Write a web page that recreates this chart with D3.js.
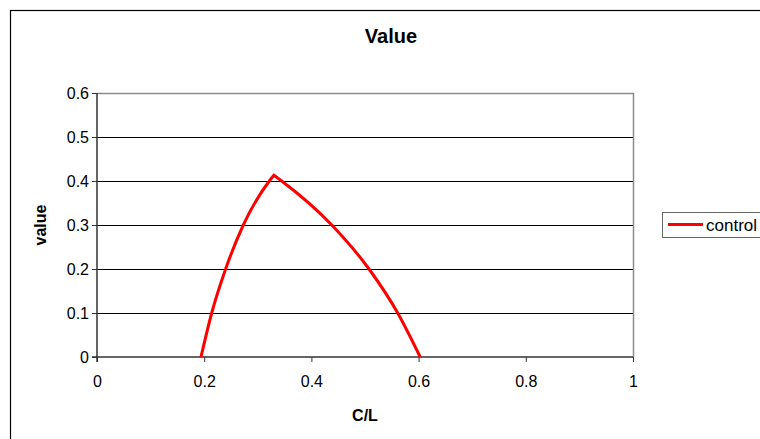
<!DOCTYPE html>
<html>
<head>
<meta charset="utf-8">
<script src="https://cdn.jsdelivr.net/npm/d3@7"></script>
<style>
  html, body { margin: 0; padding: 0; background: #fff; }
  svg { display: block; font-family: "Liberation Sans", Arial, sans-serif; }
</style>
</head>
<body>
<svg id="chart" width="760" height="439"></svg>
<script>
// ---- data ----
const cl    = [0.194, 0.214, 0.240, 0.273, 0.3215, 0.330, 0.3445, 0.438, 0.5075, 0.561, 0.603];
const value = [0.000, 0.100, 0.200, 0.300, 0.400,  0.413, 0.400,  0.300, 0.200,  0.100, 0.000];
const xTicks = [0, 0.2, 0.4, 0.6, 0.8, 1];
const yTicks = [0, 0.1, 0.2, 0.3, 0.4, 0.5, 0.6];
const seriesName = "control";
const chartTitle = "Value";
const xTitle = "C/L";
const yTitle = "value";

// ---- layout ----
const svg = d3.select("#chart");
const plot = { left: 97, right: 633, top: 93, bottom: 357 };

// outer chart border
svg.append("rect")
  .attr("x", 10.5).attr("y", 10.5)
  .attr("width", 800).attr("height", 500)
  .attr("fill", "none").attr("stroke", "#000").attr("stroke-width", 1.2);

const x = d3.scaleLinear().domain([0, 1]).range([plot.left, plot.right]);
const y = d3.scaleLinear().domain([0, 0.6]).range([plot.bottom, plot.top]);

// gridlines
svg.append("g")
  .selectAll("line")
  .data(yTicks.filter(t => t > 0 && t < 0.6))
  .join("line")
  .attr("x1", plot.left).attr("x2", plot.right)
  .attr("y1", d => Math.round(y(d)) + 0.5).attr("y2", d => Math.round(y(d)) + 0.5)
  .attr("stroke", "#000").attr("stroke-width", 1);

// plot frame (top and right gray)
svg.append("path")
  .attr("d", `M${plot.left},${plot.top + 0.5}H${plot.right + 0.5}V${plot.bottom}`)
  .attr("fill", "none").attr("stroke", "#8c8c8c").attr("stroke-width", 1.5);

// axes
const yAxis = d3.axisLeft(y).tickValues(yTicks).tickSize(5).tickPadding(3)
  .tickFormat(d => d3.format("")(d));
const xAxis = d3.axisBottom(x).tickValues(xTicks).tickSize(5).tickPadding(14)
  .tickFormat(d => d3.format("")(d));

const gy = svg.append("g").attr("transform", `translate(${plot.left},0)`).call(yAxis);
const gx = svg.append("g").attr("transform", `translate(0,${plot.bottom})`).call(xAxis);

[gx, gy].forEach(g => {
  g.attr("font-size", 16).attr("font-family", "Liberation Sans, Arial, sans-serif");
  g.select(".domain").attr("stroke", "#333").attr("stroke-width", 1.5);
  g.selectAll(".tick line").attr("stroke", "#333").attr("stroke-width", 1);
  g.selectAll(".tick text")
    .attr("fill", "#000")
    .style("font-size", "16px");
});
gy.select(".domain").attr("d", `M-5,${plot.bottom}H0V${plot.top}`);
gx.select(".domain").attr("d", `M${plot.left},5V0H${plot.right}`);

// series: split at the peak so the apex stays sharp
const peak = value.indexOf(d3.max(value));
const pts = cl.map((c, i) => [c, value[i]]);
const left = pts.slice(0, peak + 1);
const right = pts.slice(peak);
const line = d3.line().x(d => x(d[0])).y(d => y(d[1])).curve(d3.curveMonotoneX);
const dLeft = line(left);
const dRight = line(right);
svg.append("path")
  .attr("d", dLeft + dRight.replace(/^M/, "L"))
  .attr("fill", "none")
  .attr("stroke", "#ff0000")
  .attr("stroke-width", 3)
  .attr("stroke-linejoin", "miter");

// titles
svg.append("text")
  .attr("x", 391).attr("y", 43)
  .attr("text-anchor", "middle")
  .style("font-size", "20px").attr("font-weight", "bold")
  .text(chartTitle);

svg.append("text")
  .attr("x", 365).attr("y", 421)
  .attr("text-anchor", "middle")
  .style("font-size", "16px").attr("font-weight", "bold")
  .text(xTitle);

svg.append("text")
  .attr("transform", "translate(46,225) rotate(-90)")
  .attr("text-anchor", "middle")
  .style("font-size", "16px").attr("font-weight", "bold")
  .text(yTitle);

// legend
const lg = svg.append("g");
lg.append("rect")
  .attr("x", 662.5).attr("y", 212.5).attr("width", 120).attr("height", 25)
  .attr("fill", "#fff").attr("stroke", "#666").attr("stroke-width", 1);
lg.append("line")
  .attr("x1", 668).attr("x2", 703).attr("y1", 224.5).attr("y2", 224.5)
  .attr("stroke", "#ff0000").attr("stroke-width", 3);
lg.append("text")
  .attr("x", 706).attr("y", 230.5)
  .style("font-size", "17px")
  .text(seriesName);
</script>
</body>
</html>
